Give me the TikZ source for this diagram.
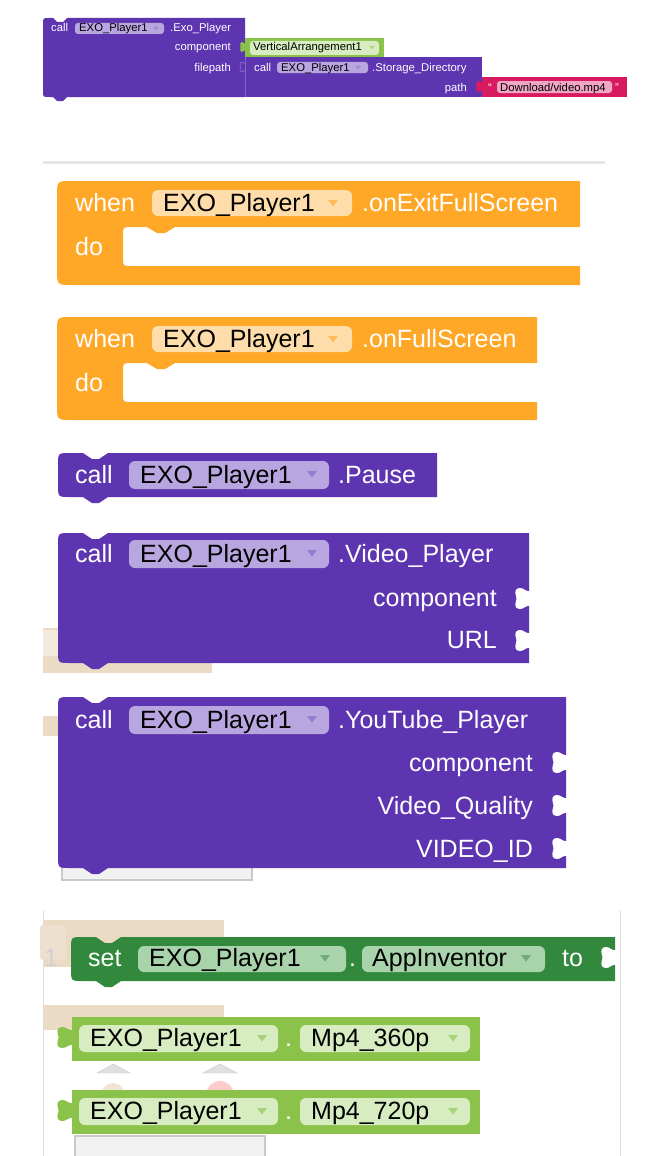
\documentclass[tikz,border=0pt]{standalone}
\usepackage{fontspec}
\setmainfont{Liberation Sans}
\definecolor{callpurple}{RGB}{94,53,177}
\definecolor{callpill}{RGB}{184,166,224}
\definecolor{callline}{RGB}{132,104,200}
\definecolor{evorange}{RGB}{255,167,38}
\definecolor{evpill}{RGB}{255,221,170}
\definecolor{setgreen}{RGB}{50,136,60}
\definecolor{setpill}{RGB}{168,211,171}
\definecolor{compgreen}{RGB}{139,195,74}
\definecolor{comppill}{RGB}{216,236,193}
\definecolor{textpink}{RGB}{216,27,96}
\definecolor{textpill}{RGB}{241,166,194}
\definecolor{beige}{RGB}{235,219,197}
\definecolor{sepgray}{RGB}{229,229,229}
\definecolor{framegray}{RGB}{222,222,222}
\definecolor{warngray}{RGB}{201,201,201}

% statement block: colour, x0, y0, x1, y1
\newcommand{\callblock}[5]{%
	\fill[#1] (#2,#3+12) .. controls (#2,#3) .. (#2+12,#3) -- (#2+25,#3) -- (#2+34,#3+6) -- (#2+41,#3+6) -- (#2+50,#3) -- (#4,#3) -- (#4,#5) -- (#2+50,#5) -- (#2+41,#5+6) -- (#2+34,#5+6) -- (#2+25,#5) -- (#2+12,#5) .. controls (#2,#5) .. (#2,#5-12) -- cycle;}
% event block with do mouth: x0, y0, x1, mouth top, mouth bottom, y1
\newcommand{\eventblock}[6]{%
	\fill[evorange] (#1,#2+15) .. controls (#1,#2) .. (#1+15,#2) -- (#3,#2) -- (#3,#4) -- (#1+118,#4) -- (#1+108,#4+6) -- (#1+100,#4+6) -- (#1+90,#4) -- (#1+74,#4) .. controls (#1+66,#4) .. (#1+66,#4+8) -- (#1+66,#5-8) .. controls (#1+66,#5) .. (#1+74,#5) -- (#3,#5) -- (#3,#6) -- (#1+15,#6) .. controls (#1,#6) .. (#1,#6-15) -- cycle;}
% puzzle tab (or hole) left of x: colour, x, y, width, height
\newcommand{\puzzletab}[5]{%
	\fill[#1] (#2+1,#3+0.15*#5) -- (#2,#3+0.15*#5) .. controls (#2-0.3*#4,#3+0.15*#5) and (#2-0.35*#4,#3) .. (#2-0.65*#4,#3) .. controls (#2-#4,#3) and (#2-#4,#3+0.2*#5) .. (#2-0.95*#4,#3+0.33*#5) .. controls (#2-0.87*#4,#3+0.45*#5) and (#2-0.87*#4,#3+0.55*#5) .. (#2-0.95*#4,#3+0.67*#5) .. controls (#2-#4,#3+0.8*#5) and (#2-#4,#3+#5) .. (#2-0.65*#4,#3+#5) .. controls (#2-0.35*#4,#3+#5) and (#2-0.3*#4,#3+0.85*#5) .. (#2,#3+0.85*#5) -- (#2+1,#3+0.85*#5) -- cycle;}
% dropdown arrow: colour, x, y, half width
\newcommand{\ddarrow}[4]{%
	\fill[#1] (#2-#4,#3-0.6*#4) -- (#2+#4,#3-0.6*#4) -- (#2,#3+0.7*#4) -- cycle;}

\tikzset{
	lbl/.style={text=white,inner sep=0pt,anchor=base west,font=\fontsize{25}{30}\selectfont},
	rlbl/.style={lbl,anchor=base east},
	pilltxt/.style={lbl,text=black},
	slbl/.style={text=white,inner sep=0pt,anchor=base west,font=\fontsize{11.3}{13}\selectfont},
	srlbl/.style={slbl,anchor=base east},
	spilltxt/.style={slbl,text=black},
	pillbox/.style={rounded corners=6pt},
	spillbox/.style={rounded corners=3pt}
}

\begin{document}
\begin{tikzpicture}[x=1pt,y=-1pt]
	\useasboundingbox (0,0) rectangle (665,1156);
	\fill[white] (0,0) rectangle (665,1156);

	% call Exo_Player
	\fill[callpurple] (43,24) .. controls (43,18) .. (49,18) -- (53,18) -- (57,22) -- (63,22) -- (67,18) -- (245,18) -- (245,97) -- (67,97) -- (63,101) -- (57,101) -- (53,97) -- (49,97) .. controls (43,97) .. (43,91) -- cycle;
	\fill[callpill,spillbox] (75,23) rectangle (164,34);
	\ddarrow{callpurple!60!white}{156}{28.5}{2.6}
	\node[slbl] (exoCall) at (51,32) {call};
	\node[spilltxt] (exoName) at (79,32) {EXO\_Player1};
	\node[slbl] (exoMeth) at (170,32) {.Exo\_Player};
	\node[srlbl] (exoCompLbl) at (231,51) {component};
	\node[srlbl] (exoPathLbl) at (231,71) {filepath};

	\fill[compgreen] (245,38) rectangle (384,57);
	\puzzletab{compgreen}{245}{42}{5}{10}
	\fill[comppill,spillbox] (250,41) rectangle (379,55);
	\ddarrow{compgreen!70!white}{372}{47.5}{2.6}
	\node[spilltxt] (vaName) at (253,51) {VerticalArrangement1};

	\fill[callpurple] (245,57) rectangle (482,97);
	\draw[callline,line width=0.8pt] (245.5,57) -- (245.5,97);
	\draw[callline,line width=0.8pt] (245,63.5) .. controls (243.5,63.5) and (243,62) .. (241.5,62) .. controls (240,62) and (240,64) .. (240.3,65.3) .. controls (241,66.5) and (241,67.5) .. (240.3,68.7) .. controls (240,70) and (240,72) .. (241.5,72) .. controls (243,72) and (243.5,70.5) .. (245,70.5);
	\fill[callpill,spillbox] (277,62) rectangle (368,73);
	\ddarrow{callpurple!60!white}{358}{67.5}{2.6}
	\node[slbl] (dirCall) at (254,71) {call};
	\node[spilltxt] (dirName) at (281,71) {EXO\_Player1};
	\node[slbl] (dirMeth) at (372,71) {.Storage\_Directory};
	\node[srlbl] (dirPathLbl) at (467,91) {path};

	\fill[textpink] (482,77) rectangle (627,97);
	\puzzletab{textpink}{482}{81}{6}{11}
	\fill[textpill,spillbox] (497,81) rectangle (612,93);
	\node[slbl] (dlOpen) at (488,91) {“};
	\node[spilltxt] (dlName) at (500,91) {Download/video.mp4};
	\node[slbl] (dlClose) at (615,91) {”};

	\fill[sepgray] (43,161) rectangle (605,164);

	% when onExitFullScreen / onFullScreen
	\eventblock{57}{181}{580}{227}{266}{285}
	\fill[evpill,pillbox] (152,190) rectangle (352,216);
	\ddarrow{evorange!75!white}{333}{203}{5}
	\node[lbl] (exitWhen) at (75,211) {when};
	\node[pilltxt] (exitComp) at (163,211) {EXO\_Player1};
	\node[lbl] (exitEvt) at (362,211) {.onExitFullScreen};
	\node[lbl] (exitDo) at (75,255) {do};

	\eventblock{57}{317}{537}{363}{402}{420}
	\fill[evpill,pillbox] (152,326) rectangle (352,352);
	\ddarrow{evorange!75!white}{333}{339}{5}
	\node[lbl] (fullWhen) at (75,347) {when};
	\node[pilltxt] (fullComp) at (163,347) {EXO\_Player1};
	\node[lbl] (fullEvt) at (362,347) {.onFullScreen};
	\node[lbl] (fullDo) at (75,391) {do};

	% call Pause
	\callblock{callpurple}{58}{453}{437}{497}
	\fill[callpill,pillbox] (129,461) rectangle (329,489);
	\ddarrow{callpurple!65!white}{312}{474}{5}
	\node[lbl] (pauseCall) at (75,483.5) {call};
	\node[pilltxt] (pauseComp) at (140,483.5) {EXO\_Player1};
	\node[lbl] (pauseMeth) at (338,483.5) {.Pause};

	% call Video_Player
	\fill[beige] (43,628) rectangle (212,673);
	\fill[beige!60!white] (43,630) rectangle (58,656);
	\callblock{callpurple}{58}{533}{529}{663}
	\puzzletab{white}{529}{588}{14}{21}
	\puzzletab{white}{529}{630}{14}{21}
	\fill[callpill,pillbox] (129,540) rectangle (329,568);
	\ddarrow{callpurple!65!white}{312}{553}{5}
	\node[lbl] (vidCall) at (75,562.5) {call};
	\node[pilltxt] (vidComp) at (140,562.5) {EXO\_Player1};
	\node[lbl] (vidMeth) at (338,562.5) {.Video\_Player};
	\node[rlbl] (vidCompLbl) at (497,606.5) {component};
	\node[rlbl] (vidUrl) at (497,648.5) {URL};

	% call YouTube_Player
	\fill[beige] (43,716) rectangle (58,736);
	\filldraw[fill=black!5,draw=warngray,line width=1.5pt] (62,858) rectangle (252,880);
	\callblock{callpurple}{58}{697}{566}{868}
	\puzzletab{white}{566}{752}{14}{21}
	\puzzletab{white}{566}{795}{14}{21}
	\puzzletab{white}{566}{838}{14}{21}
	\fill[callpill,pillbox] (129,706) rectangle (329,734);
	\ddarrow{callpurple!65!white}{312}{719}{5}
	\node[lbl] (ytCall) at (75,728.5) {call};
	\node[pilltxt] (ytComp) at (140,728.5) {EXO\_Player1};
	\node[lbl] (ytMeth) at (338,728.5) {.YouTube\_Player};
	\node[rlbl] (ytCompLbl) at (533,771.5) {component};
	\node[rlbl] (ytQual) at (533,814.5) {Video\_Quality};
	\node[rlbl] (ytId) at (533,857.5) {VIDEO\_ID};

	% workspace below
	\draw[framegray,line width=1pt] (43.5,910) -- (43.5,1156);
	\draw[framegray,line width=1pt] (620.5,910) -- (620.5,1156);
	\fill[beige] (44,920) rectangle (224,967);
	\fill[beige!85!white,spillbox] (40,925) rectangle (66,960);
	\node[lbl,text=black!18] (initNum) at (44,966) {1};
	\fill[beige] (44,1005) rectangle (224,1030);
	\filldraw[fill=black!12,draw=warngray] (97,1073) -- (130,1073) -- (113.5,1064) -- cycle;
	\filldraw[fill=black!12,draw=warngray] (203,1073) -- (237,1073) -- (220,1064) -- cycle;
	\fill[beige!70!white] (113,1095) circle[radius=12];
	\fill[red!20!white] (220,1095) circle[radius=14];
	\filldraw[fill=black!5,draw=warngray,line width=1.5pt] (75,1136) rectangle (265,1160);

	% set AppInventor
	\callblock{setgreen}{71}{937}{615}{981}
	\puzzletab{white}{615}{947}{14}{21}
	\fill[setpill,pillbox] (138,946) rectangle (346,972);
	\fill[setpill,pillbox] (362,946) rectangle (545,972);
	\ddarrow{setgreen!70!white}{325}{958}{5}
	\ddarrow{setgreen!70!white}{526}{958}{5}
	\node[lbl] (setSet) at (88,966.5) {set};
	\node[pilltxt] (setComp) at (149,966.5) {EXO\_Player1};
	\node[lbl] (setDot) at (349,966.5) {.};
	\node[pilltxt] (setProp) at (372,966.5) {AppInventor};
	\node[lbl] (setTo) at (562,966.5) {to};

	% Mp4 getters
	\fill[compgreen] (72,1017) rectangle (480,1061);
	\puzzletab{compgreen}{72}{1027}{15}{21}
	\fill[comppill,pillbox] (79,1025) rectangle (278,1052);
	\fill[comppill,pillbox] (300,1025) rectangle (470,1052);
	\ddarrow{compgreen!75!white}{262}{1038}{5}
	\ddarrow{compgreen!75!white}{453}{1038}{5}
	\node[pilltxt] (loComp) at (90,1046.5) {EXO\_Player1};
	\node[lbl] (loDot) at (285,1046.5) {.};
	\node[pilltxt] (loProp) at (311,1046.5) {Mp4\_360p};

	\fill[compgreen] (72,1090) rectangle (480,1134);
	\puzzletab{compgreen}{72}{1100}{15}{21}
	\fill[comppill,pillbox] (79,1098) rectangle (278,1125);
	\fill[comppill,pillbox] (300,1098) rectangle (470,1125);
	\ddarrow{compgreen!75!white}{262}{1111}{5}
	\ddarrow{compgreen!75!white}{453}{1111}{5}
	\node[pilltxt] (hiComp) at (90,1119.5) {EXO\_Player1};
	\node[lbl] (hiDot) at (285,1119.5) {.};
	\node[pilltxt] (hiProp) at (311,1119.5) {Mp4\_720p};
\end{tikzpicture}
\end{document}
